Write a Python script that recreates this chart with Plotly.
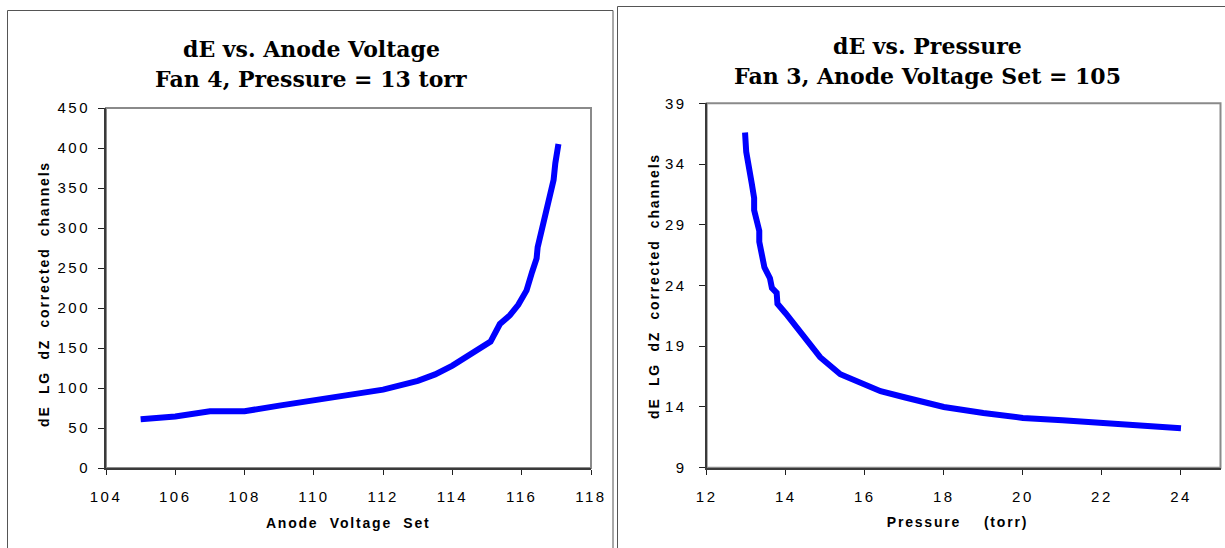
import plotly.graph_objects as go

# ---------------- data ----------------
# Left chart: dE vs Anode Voltage (Fan 4, Pressure = 13 torr)
anode_voltage = [105, 106, 107, 108, 109, 110, 111, 112, 113, 113.5, 114, 114.65,
                 115.1, 115.37, 115.66, 115.9, 116.14, 116.3, 116.43, 116.46, 116.58,
                 116.72, 116.78, 116.88, 116.92, 116.97, 117.06]
de_voltage = [61, 64.5, 71, 71, 78, 85, 91, 98, 109, 117, 128, 147,
              158, 180, 191, 204, 222, 245, 262, 276, 297,
              326, 334, 354, 360, 381, 405]

# Right chart: dE vs Pressure (Fan 3, Anode Voltage Set = 105)
pressure = [12.97, 13.0, 13.14, 13.2, 13.2, 13.27, 13.33, 13.33, 13.39, 13.46, 13.6,
            13.65, 13.77, 13.79, 14.0, 14.36, 14.6, 14.87, 15.38, 15.9, 16.4, 17.0,
            18.0, 19.0, 20.0, 21.0, 22.0, 24.0]
de_pressure = [36.6, 35.0, 32.4, 31.2, 30.2, 29.1, 28.5, 27.6, 26.4, 25.5, 24.6,
               23.8, 23.4, 22.5, 21.7, 20.2, 19.1, 18.1, 16.7, 16.0, 15.3, 14.8,
               14.0, 13.5, 13.1, 12.9, 12.7, 12.25]

x1_ticks = [104, 106, 108, 110, 112, 114, 116, 118]
y1_ticks = [0, 50, 100, 150, 200, 250, 300, 350, 400, 450]
x2_ticks = [12, 14, 16, 18, 20, 22, 24]
y2_ticks = [9, 14, 19, 24, 29, 34, 39]

title_left = ["dE vs. Anode Voltage", "Fan 4, Pressure = 13 torr"]
title_right = ["dE vs. Pressure", "Fan 3, Anode Voltage Set = 105"]
xtitle_left = "Anode\u00a0\u00a0Voltage\u00a0\u00a0Set"
xtitle_right = "Pressure\u00a0\u00a0\u00a0\u00a0(torr)"
ytitle = "dE\u00a0\u00a0LG\u00a0\u00a0dZ\u00a0\u00a0corrected\u00a0\u00a0channels"

# ---------------- styling ----------------
W, H = 1225, 548
SANS = "Liberation Sans, Arial, sans-serif"
SERIF = "DejaVu Serif, serif"
LINE_BLUE = "#0000FF"


def px_x(p):
    return p / W


def px_y(p):
    return 1 - p / H


fig = go.Figure()
fig.add_trace(go.Scatter(x=anode_voltage, y=de_voltage, mode="lines",
                         line=dict(color=LINE_BLUE, width=6), xaxis="x", yaxis="y",
                         showlegend=False, hoverinfo="skip"))
fig.add_trace(go.Scatter(x=pressure, y=de_pressure, mode="lines",
                         line=dict(color=LINE_BLUE, width=6), xaxis="x2", yaxis="y2",
                         showlegend=False, hoverinfo="skip"))

tickfont = dict(family=SANS, size=15, color="#000")
axis_common = dict(showgrid=False, zeroline=False, showline=True, linecolor="#3a3a3a",
                   linewidth=2, ticks="outside", tickwidth=1, tickcolor="#202020",
                   tickfont=tickfont, fixedrange=True, automargin=False)
overlay_common = dict(showgrid=False, zeroline=False, showline=False, ticks="inside",
                      ticklen=5, tickwidth=1, tickcolor="#202020", showticklabels=False,
                      fixedrange=True, automargin=False)

dom_x1 = [px_x(106), px_x(591)]
dom_y1 = [px_y(468), px_y(108)]
dom_x2 = [px_x(706.7), px_x(1220.5)]
dom_y2 = [px_y(467.7), px_y(103.3)]

fig.update_layout(
    template="none",
    width=W, height=H, margin=dict(l=0, r=0, t=0, b=0, pad=0, autoexpand=False),
    paper_bgcolor="white", plot_bgcolor="white", showlegend=False,
    xaxis=dict(domain=dom_x1, range=[104, 118], anchor="y", ticklen=5,
               tickmode="array", tickvals=x1_ticks, ticktext=[str(t) for t in x1_ticks],
               ticklabelstandoff=9, **axis_common),
    yaxis=dict(domain=dom_y1, range=[0, 450], anchor="x", ticklen=6,
               tickmode="array", tickvals=y1_ticks, ticktext=[str(t) for t in y1_ticks],
               ticklabelstandoff=5, **axis_common),
    xaxis2=dict(domain=dom_x2, range=[12, 25], anchor="y2", ticklen=5,
                tickmode="array", tickvals=x2_ticks, ticktext=[str(t) for t in x2_ticks],
                ticklabelstandoff=9, **axis_common),
    yaxis2=dict(domain=dom_y2, range=[9, 39], anchor="x2", ticklen=6,
                tickmode="array", tickvals=y2_ticks, ticktext=[str(t) for t in y2_ticks],
                ticklabelstandoff=9, **axis_common),
    # overlay axes give the x ticks that cross the axis line
    xaxis3=dict(overlaying="x", domain=dom_x1, range=[104, 118], anchor="y",
                tickmode="array", tickvals=x1_ticks, **overlay_common),
    xaxis4=dict(overlaying="x2", domain=dom_x2, range=[12, 25], anchor="y2",
                tickmode="array", tickvals=x2_ticks, **overlay_common),
)

shapes = []
# plot-area frames (gray)
for xr, yr in (("x domain", "y domain"), ("x2 domain", "y2 domain")):
    shapes.append(dict(type="rect", xref=xr, yref=yr, x0=0, x1=1, y0=0, y1=1,
                       line=dict(color="#8a8a8a", width=2), layer="below"))
# outer chart boxes
shapes.append(dict(type="rect", xref="paper", yref="paper",
                   x0=px_x(7.5), x1=px_x(613), y0=px_y(560), y1=px_y(10.5),
                   line=dict(color="#555555", width=1)))
shapes.append(dict(type="rect", xref="paper", yref="paper",
                   x0=px_x(617.5), x1=px_x(1240), y0=px_y(560), y1=px_y(6.5),
                   line=dict(color="#555555", width=1)))
fig.update_layout(shapes=shapes)

ann = []
title_font = dict(family=SERIF, size=22, color="#000")
for i, line in enumerate(title_left):
    ann.append(dict(text="<b>%s</b>" % line, x=px_x(311), y=px_y(49 + 30 * i),
                    xref="paper", yref="paper", showarrow=False, font=title_font,
                    xanchor="center", yanchor="middle"))
for i, line in enumerate(title_right):
    ann.append(dict(text="<b>%s</b>" % line, x=px_x(927), y=px_y(46 + 30 * i),
                    xref="paper", yref="paper", showarrow=False, font=title_font,
                    xanchor="center", yanchor="middle"))
ax_font = dict(family=SANS, size=14, color="#000")
ann.append(dict(text="<b>%s</b>" % xtitle_left, x=px_x(349), y=px_y(523), xref="paper",
                yref="paper", showarrow=False, font=ax_font, xanchor="center", yanchor="middle"))
ann.append(dict(text="<b>%s</b>" % xtitle_right, x=px_x(957), y=px_y(522), xref="paper",
                yref="paper", showarrow=False, font=ax_font, xanchor="center", yanchor="middle"))
ann.append(dict(text="<b>%s</b>" % ytitle, x=px_x(44), y=px_y(294), xref="paper",
                yref="paper", showarrow=False, font=ax_font, textangle=-90,
                xanchor="center", yanchor="middle"))
ann.append(dict(text="<b>%s</b>" % ytitle, x=px_x(654), y=px_y(286), xref="paper",
                yref="paper", showarrow=False, font=ax_font, textangle=-90,
                xanchor="center", yanchor="middle"))
fig.update_layout(annotations=ann)

# remove the default page margin so the figure sits at the window origin,
# and widen the letter spacing of the sans-serif labels like the original
post = """
document.body.style.margin = '0';
document.body.style.overflow = 'hidden';
var gd = document.querySelector('.plotly-graph-div');
gd.querySelectorAll('.xtick text, .ytick text, .x2tick text, .y2tick text').forEach(function(t){
  t.style.letterSpacing = '2.5px';
});
gd.querySelectorAll('.annotation-text').forEach(function(t){
  if ((t.style.fontFamily || '').indexOf('Liberation Sans') >= 0) { t.style.letterSpacing = '1.8px'; }
});
"""
fig.write_html("out.html", post_script=post, config={"displayModeBar": False})
